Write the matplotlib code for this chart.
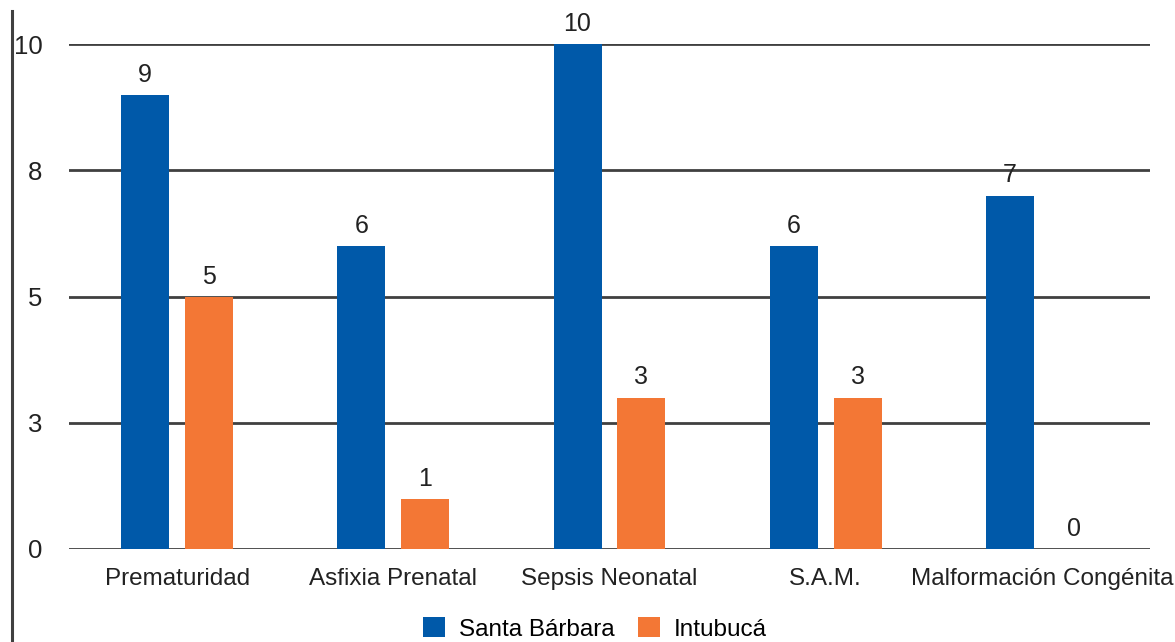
import numpy as np
import matplotlib
matplotlib.use("Agg")
import matplotlib.pyplot as plt
from matplotlib.lines import Line2D

# Datos
categorias = ["Prematuridad", "Asfixia Prenatal", "Sepsis Neonatal", "S.A.M.", "Malformación Congénita"]
santa_barbara = [9, 6, 10, 6, 7]
intubuca = [5, 1, 3, 3, 0]
series_nombres = ["Santa Bárbara", "Intubucá"]
yticks = [0, 2.5, 5, 7.5, 10]
ytick_labels = ["0", "3", "5", "8", "10"]

azul = "#0059A9"
naranja = "#F37735"
gris = "#404040"

plt.rcParams['font.family'] = ['Liberation Sans', 'DejaVu Sans']

fig = plt.figure(figsize=(11.75, 6.42), dpi=100)
ax = fig.add_axes([69/1175, 1 - 549/642, (1150 - 69)/1175, (549 - 44)/642])

x = np.arange(len(categorias))
w = 0.222
off = 0.148
b1 = ax.bar(x - off, santa_barbara, w, color=azul, label=series_nombres[0], zorder=3)
b2 = ax.bar(x + off, intubuca, w, color=naranja, label=series_nombres[1], zorder=3)

# etiquetas de valores
for barras in (b1, b2):
    for r in barras:
        ax.annotate("%d" % r.get_height(), (r.get_x() + r.get_width()/2, r.get_height()),
                    xytext=(0, 20), textcoords="offset pixels", ha="center", va="center",
                    fontsize=18, color="#222222", annotation_clip=False, zorder=4)

ax.set_xlim(-0.5, len(categorias) - 0.5)
ax.set_ylim(0, 10)
ax.set_yticks(yticks)
ax.set_yticklabels(ytick_labels)
ax.set_xticks(x)
ax.set_xticklabels(categorias)
ax.tick_params(axis="y", length=0, pad=19, labelsize=18.5, labelcolor="#222222")
ax.tick_params(axis="x", length=0, pad=14, labelsize=17.5, labelcolor="#222222")
for s in ax.spines.values():
    s.set_visible(False)
ax.yaxis.grid(True, color=gris, linewidth=2)
ax.set_axisbelow(True)

# linea vertical a la izquierda
fig.add_artist(Line2D([12/1175, 12/1175], [0, 1 - 11/642], color=gris, linewidth=2.2))

fig.legend(handles=[b1, b2], loc="center", bbox_to_anchor=(595/1175, 1 - 629/642),
           ncol=2, frameon=False, fontsize=17.5, handlelength=0.9, handleheight=0.9,
           handletextpad=0.55, columnspacing=1.0, borderpad=0)

fig.savefig("out.png", dpi=100)
